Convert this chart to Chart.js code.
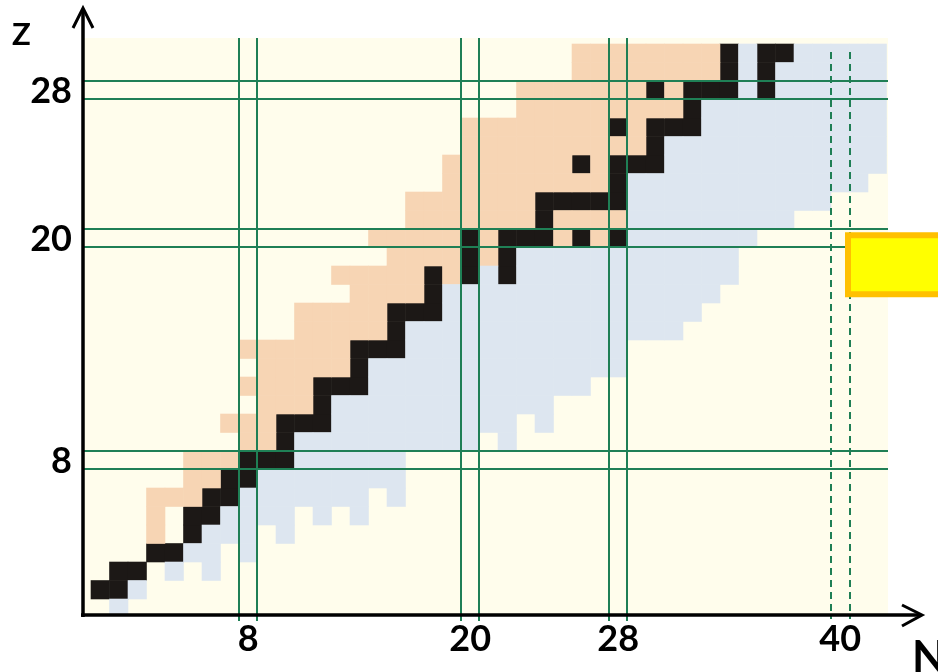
<!DOCTYPE html>
<html>
<head>
<meta charset="utf-8">
<title>Chart of light nuclides</title>
<script src="https://cdn.jsdelivr.net/npm/chart.js@4.4.1/dist/chart.umd.min.js"></script>
<style>
  html, body { margin: 0; padding: 0; background: #ffffff; }
  #wrap { width: 938px; height: 672px; position: relative; }
</style>
</head>
<body>
<div id="wrap"><canvas id="chart" width="938" height="672"></canvas></div>
<script>
// Proton number Z of each row; the lists below are indexed by row.
const protonNumbers = [0, 1, 2, 3, 4, 5, 6, 7, 8, 9, 10, 11, 12, 13, 14, 15,
                       16, 17, 18, 19, 20, 21, 22, 23, 24, 25, 26, 27, 28, 29, 30];

// Neutron numbers N of the stable nuclides in each row
const stableN = [
  [], [0, 1], [1, 2], [3, 4], [5], [5, 6], [6, 7], [7, 8], [8, 9, 10], [10],
  [10, 11, 12], [12], [12, 13, 14], [14], [14, 15, 16], [16], [16, 17, 18], [18],
  [18, 20, 22], [20, 22], [20, 22, 23, 24, 26, 28], [24], [24, 25, 26, 27, 28], [28],
  [26, 28, 29, 30], [30], [28, 30, 31, 32], [32], [30, 32, 33, 34, 36], [34, 36], [34, 36, 37]
];

// Neutron numbers N of the known proton-rich nuclides in each row
const protonRichN = [
  [], [], [], [], [3], [3], [3, 4, 5], [5, 6], [5, 6, 7], [8, 9],
  [7, 8, 9], [9, 10, 11], [8, 9, 10, 11], [9, 10, 11, 12, 13], [8, 9, 10, 11, 12, 13],
  [11, 12, 13, 14, 15], [11, 12, 13, 14, 15], [14, 15, 16, 17], [13, 14, 15, 16, 17, 19],
  [16, 17, 18, 19, 21], [15, 16, 17, 18, 19, 21, 25, 27],
  [17, 18, 19, 20, 21, 22, 23, 25, 26, 27, 28], [17, 18, 19, 20, 21, 22, 23],
  [19, 20, 21, 22, 23, 24, 25, 26, 27], [19, 20, 21, 22, 23, 24, 25, 27],
  [20, 21, 22, 23, 24, 25, 26, 27, 28, 29], [20, 21, 22, 23, 24, 25, 26, 27, 29],
  [23, 24, 25, 26, 27, 28, 29, 30, 31], [23, 24, 25, 26, 27, 28, 29, 31],
  [26, 27, 28, 29, 30, 31, 32, 33], [26, 27, 28, 29, 30, 31, 32, 33]
];

// Neutron numbers N of the known neutron-rich nuclides in each row
const neutronRichN = [
  [1], [2], [4, 6], [5, 6, 8], [6, 7, 8, 10], [7, 8, 9, 10, 12, 14],
  [8, 9, 10, 11, 12, 13, 14, 16], [9, 10, 11, 12, 13, 14, 15, 16], [11, 12, 13, 14, 15, 16],
  [11, 12, 13, 14, 15, 16, 17, 18, 19, 20, 22],
  [13, 14, 15, 16, 17, 18, 19, 20, 21, 22, 24],
  [13, 14, 15, 16, 17, 18, 19, 20, 21, 22, 23, 24],
  [15, 16, 17, 18, 19, 20, 21, 22, 23, 24, 25, 26],
  [15, 16, 17, 18, 19, 20, 21, 22, 23, 24, 25, 26, 27, 28],
  [17, 18, 19, 20, 21, 22, 23, 24, 25, 26, 27, 28],
  [17, 18, 19, 20, 21, 22, 23, 24, 25, 26, 27, 28, 29, 30, 31],
  [19, 20, 21, 22, 23, 24, 25, 26, 27, 28, 29, 30, 31, 32],
  [19, 20, 21, 22, 23, 24, 25, 26, 27, 28, 29, 30, 31, 32, 33],
  [21, 23, 24, 25, 26, 27, 28, 29, 30, 31, 32, 33, 34],
  [23, 24, 25, 26, 27, 28, 29, 30, 31, 32, 33, 34],
  [29, 30, 31, 32, 33, 34, 35],
  [29, 30, 31, 32, 33, 34, 35, 36, 37],
  [29, 30, 31, 32, 33, 34, 35, 36, 37, 38, 39],
  [29, 30, 31, 32, 33, 34, 35, 36, 37, 38, 39, 40, 41],
  [31, 32, 33, 34, 35, 36, 37, 38, 39, 40, 41, 42],
  [31, 32, 33, 34, 35, 36, 37, 38, 39, 40, 41, 42],
  [33, 34, 35, 36, 37, 38, 39, 40, 41, 42],
  [33, 34, 35, 36, 37, 38, 39, 40, 41, 42],
  [35, 37, 38, 39, 40, 41, 42],
  [35, 37, 38, 39, 40, 41, 42],
  [35, 38, 39, 40, 41, 42]
];

// Magic numbers marked on the axes
const magicN = [8, 20, 28];
const magicNDashed = [40];
const magicZ = [8, 20, 28];
const nTickLabels = [8, 20, 28, 40];
const zTickLabels = [8, 20, 28];

const COLORS = {
  background: '#fffdec',
  stable: '#1c1816',
  protonRich: '#f7d5b4',
  neutronRich: '#dde6f0',
  magic: '#1f7f55',
  axis: '#000000'
};
const LABEL_FONT = 'Lato, "Open Sans", "DejaVu Sans", sans-serif';

function toPoints(rows) {
  const pts = [];
  rows.forEach((ns, i) => ns.forEach(n => pts.push({ x: n, y: protonNumbers[i] })));
  return pts;
}

// A 'rect' point of radius r is a square of side r * sqrt(2); size it to one N step.
function cellRadius(ctx) {
  const s = ctx.chart.scales.x;
  const side = Math.abs(s.getPixelForValue(1) - s.getPixelForValue(0)) + 0.6;
  return side / Math.SQRT2;
}

function cellDataset(label, rows, color) {
  return {
    label,
    data: toPoints(rows),
    pointStyle: 'rect',
    backgroundColor: color,
    borderWidth: 0,
    pointRadius: cellRadius,
    pointHoverRadius: cellRadius
  };
}

function strokeLine(ctx, x1, y1, x2, y2) {
  ctx.beginPath();
  ctx.moveTo(x1, y1);
  ctx.lineTo(x2, y2);
  ctx.stroke();
}

const chartDecor = {
  id: 'chartDecor',
  beforeDatasetsDraw(chart) {
    const { ctx, chartArea: a } = chart;
    ctx.save();
    ctx.fillStyle = COLORS.background;
    ctx.fillRect(a.left, a.top, a.right - a.left, a.bottom - a.top);
    ctx.restore();
  },
  afterDatasetsDraw(chart) {
    const { ctx, chartArea: a, scales: { x, y } } = chart;
    ctx.save();

    // magic-number bands: a pair of lines around each magic row / column
    ctx.strokeStyle = COLORS.magic;
    ctx.lineWidth = 2;
    magicZ.forEach(z => [z - 0.5, z + 0.5].forEach(v => {
      const py = Math.round(y.getPixelForValue(v));
      strokeLine(ctx, a.left, py, a.right, py);
    }));
    magicN.forEach(n => [n - 0.5, n + 0.5].forEach(v => {
      const px = Math.round(x.getPixelForValue(v));
      strokeLine(ctx, px, a.top, px, a.bottom + 6);
    }));
    ctx.setLineDash([7, 5]);
    magicNDashed.forEach(n => [n - 0.5, n + 0.5].forEach(v => {
      const px = Math.round(x.getPixelForValue(v));
      strokeLine(ctx, px, a.top + 14, px, a.bottom + 4);
    }));
    ctx.setLineDash([]);

    // axes with open arrowheads
    ctx.strokeStyle = COLORS.axis;
    ctx.lineWidth = 3.5;
    ctx.lineCap = 'butt';
    const ax = a.left - 1;
    const ay = a.bottom;
    strokeLine(ctx, ax, ay + 2, ax, 10);
    strokeLine(ctx, ax - 2, ay, a.right + 32, ay);
    ctx.lineWidth = 3;
    ctx.lineJoin = 'miter';
    ctx.beginPath();
    ctx.moveTo(ax - 10, 28); ctx.lineTo(ax, 8); ctx.lineTo(ax + 10, 28);
    ctx.stroke();
    ctx.beginPath();
    ctx.moveTo(a.right + 14, ay - 10); ctx.lineTo(a.right + 34, ay); ctx.lineTo(a.right + 14, ay + 11);
    ctx.stroke();

    // tick labels at the magic numbers
    ctx.fillStyle = '#000000';
    ctx.font = 'bold 36px ' + LABEL_FONT;
    ctx.textAlign = 'center';
    ctx.textBaseline = 'middle';
    nTickLabels.forEach(n => ctx.fillText(String(n), x.getPixelForValue(n), ay + 24));
    ctx.textAlign = 'right';
    zTickLabels.forEach(z => ctx.fillText(String(z), ax - 11, y.getPixelForValue(z) + 1));

    // axis names
    ctx.textAlign = 'left';
    ctx.textBaseline = 'alphabetic';
    ctx.font = 'bold 31px ' + LABEL_FONT;
    ctx.fillText('Z', 12, 45);
    ctx.font = 'bold 44px ' + LABEL_FONT;
    ctx.fillText('N', a.right + 24, 672);

    // highlighted box at the right edge
    const bx = a.right - 43;
    const by = y.getPixelForValue(20) - 6;
    ctx.fillStyle = '#ffc000';
    ctx.fillRect(bx, by, chart.width - bx + 2, 65);
    ctx.fillStyle = '#ffff00';
    ctx.fillRect(bx + 6, by + 6, chart.width - bx, 53);

    ctx.restore();
  }
};

new Chart(document.getElementById('chart'), {
  type: 'scatter',
  data: {
    datasets: [
      cellDataset('neutron-rich', neutronRichN, COLORS.neutronRich),
      cellDataset('proton-rich', protonRichN, COLORS.protonRich),
      cellDataset('stable', stableN, COLORS.stable)
    ]
  },
  options: {
    responsive: false,
    animation: false,
    events: [],
    layout: { padding: { left: 84, right: 50, top: 38, bottom: 57 } },
    scales: {
      x: { type: 'linear', min: -0.878, max: 42.581, display: false },
      y: { type: 'linear', min: -0.365, max: 30.824, display: false }
    },
    plugins: {
      legend: { display: false },
      tooltip: { enabled: false }
    }
  },
  plugins: [chartDecor]
});
</script>
</body>
</html>
